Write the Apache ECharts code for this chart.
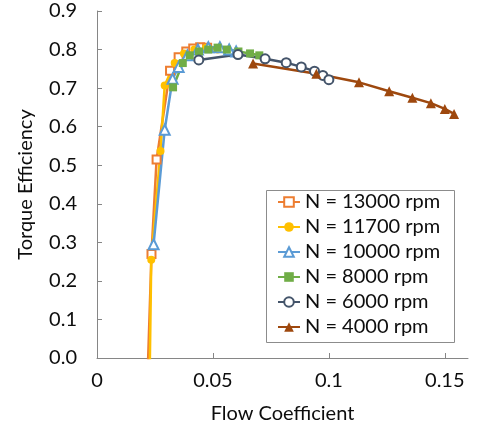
<!DOCTYPE html>
<html>
<head>
<meta charset="utf-8">
<script src="https://cdn.jsdelivr.net/npm/echarts@6/dist/echarts.min.js"></script>
<style>
  html, body { margin: 0; padding: 0; background: #fff; }
  #chart { width: 483px; height: 432px; }
</style>
</head>
<body>
<div id="chart"></div>
<script>
// series names (legend)
const seriesNames = ['N = 13000 rpm', 'N = 11700 rpm', 'N = 10000 rpm', 'N = 8000 rpm', 'N = 6000 rpm', 'N = 4000 rpm'];

// flow coefficient / torque efficiency
const phi13000 = [0.0218, 0.0235, 0.0257, 0.0315, 0.0352, 0.0385, 0.0415, 0.0445, 0.0475];
const eff13000 = [-0.05, 0.270, 0.515, 0.745, 0.780, 0.795, 0.803, 0.806, 0.805];

const phi11700 = [0.0227, 0.0234, 0.0274, 0.0292, 0.0335, 0.0375, 0.0420, 0.0470, 0.0520];
const eff11700 = [-0.05, 0.255, 0.537, 0.707, 0.765, 0.790, 0.800, 0.805, 0.800];

const phi10000 = [0.0244, 0.0292, 0.0326, 0.0352, 0.0390, 0.0435, 0.0480, 0.0530, 0.0570, 0.0600];
const eff10000 = [0.295, 0.592, 0.724, 0.755, 0.785, 0.800, 0.806, 0.806, 0.800, 0.795];

const phi8000 = [0.0328, 0.0370, 0.0400, 0.0440, 0.0480, 0.0520, 0.0560, 0.0610, 0.0660, 0.0700];
const eff8000 = [0.702, 0.765, 0.785, 0.795, 0.800, 0.805, 0.800, 0.795, 0.790, 0.785];

const phi6000 = [0.0439, 0.0608, 0.0725, 0.0816, 0.0881, 0.0938, 0.0974, 0.1000];
const eff6000 = [0.773, 0.787, 0.776, 0.766, 0.755, 0.744, 0.733, 0.722];

const phi4000 = [0.0673, 0.0946, 0.1130, 0.1260, 0.1360, 0.1440, 0.1500, 0.1540];
const eff4000 = [0.764, 0.737, 0.715, 0.692, 0.675, 0.661, 0.646, 0.633];

// tick labels
const xTicks = [0, 0.05, 0.1, 0.15];
const yTicks = [0, 0.1, 0.2, 0.3, 0.4, 0.5, 0.6, 0.7, 0.8, 0.9];

const FONT = 'Lato';
const TEXT = '#0d0d0d';
const zip = (xs, ys) => xs.map((x, i) => [x, ys[i]]);

// colour, symbol, size, open marker?
const styles = [
  { color: '#ED7D31', symbol: 'rect', size: 8, open: true },
  { color: '#FFC000', symbol: 'circle', size: 8, open: false },
  { color: '#5B9BD5', symbol: 'triangle', size: 10, open: true },
  { color: '#70AD47', symbol: 'rect', size: 8, open: false },
  { color: '#44546A', symbol: 'circle', size: 9, open: true },
  { color: '#9E480E', symbol: 'triangle', size: 10, open: false }
];

const data = [
  zip(phi13000, eff13000),
  zip(phi11700, eff11700),
  zip(phi10000, eff10000),
  zip(phi8000, eff8000),
  zip(phi6000, eff6000),
  zip(phi4000, eff4000)
];

const chart = echarts.init(document.getElementById('chart'), null, { renderer: 'canvas' });

const series = seriesNames.map((name, i) => {
  const s = styles[i];
  return {
    name: name,
    type: 'line',
    data: data[i],
    clip: true,
    symbol: s.symbol,
    symbolSize: s.size,
    showAllSymbol: true,
    lineStyle: { color: s.color, width: 2.5 },
    itemStyle: s.open
      ? { color: '#fff', borderColor: s.color, borderWidth: 2 }
      : { color: s.color, borderColor: s.color, borderWidth: 0 },
    emphasis: { disabled: true },
    animation: false
  };
});

const option = {
  backgroundColor: '#fff',
  animation: false,
  grid: { left: 97, top: 11, right: 15, bottom: 74, containLabel: false },
  xAxis: {
    type: 'value',
    min: 0,
    max: 0.16,
    interval: 0.05,
    name: 'Flow Coefficient',
    nameLocation: 'middle',
    nameGap: 46,
    nameTextStyle: { fontFamily: FONT, fontSize: 20, color: TEXT },
    axisLine: { show: true, lineStyle: { color: '#868686', width: 1 } },
    axisTick: { show: true, inside: true, length: 5, lineStyle: { color: '#868686' } },
    axisLabel: {
      fontFamily: FONT, fontSize: 20, color: TEXT, margin: 13,
      showMaxLabel: false,
      formatter: v => {
        const t = xTicks.find(k => Math.abs(k - v) < 1e-9);
        return t === undefined ? '' : String(t);
      }
    },
    splitLine: { show: false }
  },
  yAxis: {
    type: 'value',
    min: 0,
    max: 0.9,
    interval: 0.1,
    name: 'Torque Efficiency',
    nameLocation: 'middle',
    nameGap: 61,
    nameTextStyle: { fontFamily: FONT, fontSize: 20, color: TEXT },
    axisLine: { show: true, lineStyle: { color: '#868686', width: 1 } },
    axisTick: { show: true, inside: true, length: 5, lineStyle: { color: '#868686' } },
    axisLabel: {
      fontFamily: FONT, fontSize: 20, color: TEXT, margin: 20,
      formatter: v => {
        const t = yTicks.find(k => Math.abs(k - v) < 1e-9);
        return t === undefined ? '' : t.toFixed(1);
      }
    },
    splitLine: { show: false }
  },
  legend: {
    orient: 'vertical',
    left: 264,
    top: 188,
    padding: [4, 10, 4, 13],
    itemWidth: 22,
    itemHeight: 12,
    itemGap: 5,
    textStyle: { fontFamily: FONT, fontSize: 20, color: TEXT, lineHeight: 20 },
    data: seriesNames
  },
  graphic: [{
    type: 'rect',
    left: 264,
    top: 188,
    shape: { width: 188, height: 152 },
    style: { fill: 'none', stroke: '#8c8c8c', lineWidth: 1 },
    z: 1
  }],
  series: series
};

chart.setOption(option);
</script>
</body>
</html>
